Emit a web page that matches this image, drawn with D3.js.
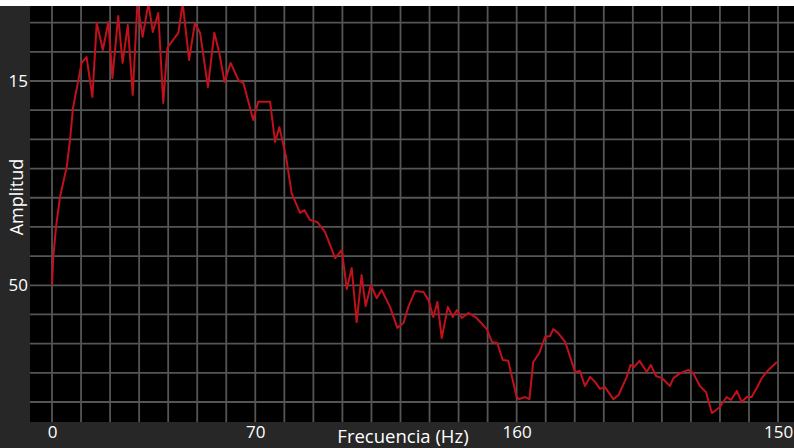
<!DOCTYPE html>
<html>
<head>
<meta charset="utf-8">
<script src="https://cdn.jsdelivr.net/npm/d3@7"></script>
<style>
  html, body { margin: 0; padding: 0; background: #ffffff; }
  svg { display: block; }
  text { font-family: "Open Sans", "Noto Sans", sans-serif; }
</style>
</head>
<body>
<svg id="chart" width="794" height="448"></svg>
<script>
// ---- data ----
const freq = [0, 0.45, 1.38, 2.75, 5.06, 6.2, 7.23, 10.2, 11.9, 13.9, 15.4, 17.5, 19.4, 20.8, 22.8, 24.3, 26.1, 27.8, 29.4, 31.2,
  33.2, 34.7, 36.6, 38.3, 39.7, 41.7, 43.5, 45.0, 47.2, 49.2, 51.0, 53.7, 55.9, 57.6, 59.4, 61.5, 64.2, 65.9, 69.3, 71.0,
  75.1, 76.8, 78.3, 80.6, 82.5, 85.4, 86.9, 88.8, 91.3, 94.0, 97.5, 99.8, 101.5, 103.2, 104.9, 106.6, 108.0, 109.8, 111.8, 113.5,
  116.4, 118.9, 121.0, 122.7, 125.0, 127.9, 129.6, 131.3, 132.7, 134.2, 136.3, 138.0, 139.4, 141.1, 143.4, 146.2, 149.7, 151.5, 153.3, 155.2,
  157.1, 160.0, 160.9, 162.9, 164.4, 165.7, 167.8, 169.8, 171.5, 172.6, 174.3, 176.7, 180.1, 181.8, 183.5, 185.3, 187.0, 188.7, 190.4, 193.3,
  195.1, 197.9, 199.2, 200.4, 202.3, 204.8, 206.2, 208.0, 210.0, 212.8, 214.0, 216.3, 219.1, 220.8, 223.1, 225.2, 227.2, 230.0, 232.3, 233.8,
  235.8, 237.5, 239.2, 240.9, 242.7, 244.4, 246.7, 249.6];
const amplitude = [40.1, 49.7, 60.0, 70.3, 80.5, 89.8, 100.8, 116.2, 118.2, 104.5, 129.9, 120.6, 130.2, 111.0, 132.3, 116.2, 129.2, 105.2, 136.7, 125.1,
  136.7, 126.8, 133.3, 102.5, 121.3, 124.1, 126.5, 136.7, 117.2, 129.9, 126.5, 107.9, 126.5, 119.6, 109.7, 116.2, 110.3, 109.3, 96.6, 102.9,
  102.9, 89.1, 94.2, 84.0, 71.6, 64.8, 65.8, 62.4, 61.7, 58.3, 49.3, 52.1, 38.7, 45.9, 27.4, 43.5, 32.9, 40.1, 35.6, 38.4,
  32.6, 25.4, 27.1, 32.6, 38.0, 37.7, 35.0, 29.1, 34.3, 21.9, 32.6, 29.1, 31.5, 28.8, 30.5, 28.8, 25.0, 20.6, 20.2, 14.4,
  14.1, 1.7, 1.0, 1.7, 1.0, 13.7, 16.8, 22.3, 22.6, 25.0, 23.6, 20.6, 10.3, 10.6, 5.5, 8.6, 6.9, 4.5, 5.1, 1.0,
  2.4, 8.6, 12.7, 12.0, 14.1, 10.3, 12.7, 8.9, 8.2, 5.5, 8.2, 9.9, 11.0, 9.9, 5.5, 3.4, -3.8, -1.7, 1.7, 0.7,
  3.8, 0, 1.7, 1.7, 4.8, 8.2, 11.0, 13.7];
const xTickValues = [0, 70, 160, 250];
const xTickLabels = ["0", "70", "160", "150"];
const yTickValues = [40, 110];
const yTickLabels = ["50", "15"];
const xGridValues = d3.range(0, 251, 10);
const yGridValues = d3.range(0, 131, 10);
const xTitle = "Frecuencia (Hz)";
const yTitle = "Amplitud";

// ---- layout ----
const W = 794, H = 448;
const plot = { left: 30, right: 794, top: 6, bottom: 422 };
const svg = d3.select("#chart");

const x = d3.scaleLinear().domain([-7.58, 255.5]).range([plot.left, plot.right]);
const y = d3.scaleLinear().domain([-6.85, 135.7]).range([plot.bottom, plot.top]);

// background
svg.append("rect").attr("x", 0).attr("y", 0).attr("width", W).attr("height", H).attr("fill", "#272727");
svg.append("rect").attr("x", plot.left).attr("y", plot.top)
  .attr("width", plot.right - plot.left).attr("height", plot.bottom - plot.top).attr("fill", "#000000");

// grid
const grid = svg.append("g").attr("stroke", "#555555").attr("stroke-width", 1.8);
grid.selectAll("line.vx").data(xGridValues).join("line")
  .attr("x1", d => x(d)).attr("x2", d => x(d)).attr("y1", plot.top).attr("y2", plot.bottom);
grid.selectAll("line.hy").data(yGridValues).join("line")
  .attr("x1", plot.left).attr("x2", plot.right).attr("y1", d => y(d)).attr("y2", d => y(d));

// line
svg.append("clipPath").attr("id", "clip").append("rect")
  .attr("x", plot.left).attr("y", plot.top).attr("width", plot.right - plot.left).attr("height", plot.bottom - plot.top);
const pts = freq.map((f, i) => [f, amplitude[i]]);
svg.append("path").datum(pts)
  .attr("clip-path", "url(#clip)")
  .attr("fill", "none").attr("stroke", "#c0111c").attr("stroke-width", 2)
  .attr("stroke-linejoin", "round")
  .attr("d", d3.line().x(d => x(d[0])).y(d => y(d[1])));

// white strip on top
svg.append("rect").attr("x", 0).attr("y", 0).attr("width", W).attr("height", plot.top).attr("fill", "#ffffff");

// axes
const xAxis = d3.axisBottom(x).tickValues(xTickValues)
  .tickFormat((d, i) => xTickLabels[i]).tickSize(0).tickPadding(0);
const gx = svg.append("g").attr("transform", `translate(0,${plot.bottom})`).call(xAxis);
gx.select(".domain").remove();
gx.selectAll("text").attr("fill", "#ffffff").attr("font-size", 17).attr("dy", null).attr("y", 16);

const yAxis = d3.axisLeft(y).tickValues(yTickValues)
  .tickFormat((d, i) => yTickLabels[i]).tickSize(0).tickPadding(2);
const gy = svg.append("g").attr("transform", `translate(${plot.left},0)`).call(yAxis);
gy.select(".domain").remove();
gy.selectAll("text").attr("fill", "#ffffff").attr("font-size", 17).attr("x", -2);

// titles
svg.append("text").attr("x", 403).attr("y", 443).attr("text-anchor", "middle")
  .attr("fill", "#ffffff").attr("font-size", 18.5).text(xTitle);
svg.append("text").attr("transform", "translate(23,197) rotate(-90)").attr("text-anchor", "middle")
  .attr("fill", "#ffffff").attr("font-size", 18).text(yTitle);
</script>
</body>
</html>
